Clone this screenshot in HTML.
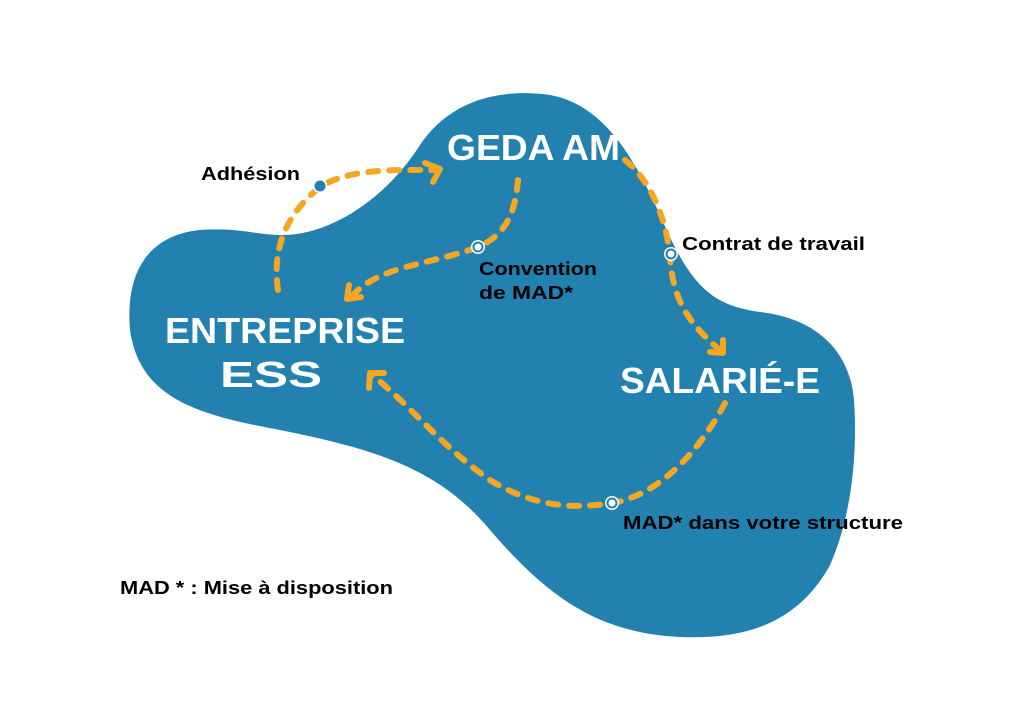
<!DOCTYPE html>
<html><head><meta charset="utf-8"><style>
body{margin:0;background:#fff;}
svg{display:block}
text{font-family:"Liberation Sans",Arial,sans-serif;font-weight:bold;}
</style></head><body>
<svg width="1024" height="724" viewBox="0 0 1024 724">
<path fill="#2281ae" d="M285 235 C330 234 385 200 420 145 C450 100 500 88 550 95 C605 105 635 160 660 215 C690 285 710 305 760 312 C815 318 850 350 854 400 C858 460 850 520 830 565 C800 620 750 640 680 637 C600 633 550 600 490 530 C440 470 380 450 280 430 C200 415 140 400 130 330 C125 270 150 235 200 230 C240 227 260 236 285 235 Z"/>
<g fill="none" stroke="#f5a623" stroke-width="6" stroke-linecap="round" stroke-dasharray="10 11">
<path d="M278 290 C272 250 285 215 320 187 C350 168 395 170 437 170"/>
<path d="M518 180 C515 215 505 235 478 247 C430 265 380 265 352 296"/>
<path d="M625 160 C650 180 665 215 670 255 C672 300 690 325 720 350"/>
<path d="M725 403 C700 450 660 495 612 503 C570 510 530 505 490 480 C440 445 410 405 372 375"/>
</g>
<g fill="none" stroke="#f5a623" stroke-width="6" stroke-linecap="round" stroke-linejoin="round">
<path d="M425 163 L440 169 L433 182"/>
<path d="M349 285 L347 299 L361 297"/>
<path d="M710 352 L723 353 L723 340"/>
<path d="M369 388 L370 373 L384 373"/>
</g>
<g>
<circle cx="320" cy="186" r="7" fill="#fff"/><circle cx="320" cy="186" r="5.5" fill="#2281ae"/>
<circle cx="478" cy="247" r="7" fill="#fff"/><circle cx="478" cy="247" r="5.5" fill="#2281ae"/><circle cx="478" cy="247" r="3.5" fill="#fff"/>
<circle cx="671" cy="254" r="7" fill="#fff"/><circle cx="671" cy="254" r="5.5" fill="#2281ae"/><circle cx="671" cy="254" r="3.5" fill="#fff"/>
<circle cx="612" cy="503" r="7" fill="#fff"/><circle cx="612" cy="503" r="5.5" fill="#2281ae"/><circle cx="612" cy="503" r="3.5" fill="#fff"/>
</g>
<g fill="#fff" font-size="36">
<text x="447" y="160" textLength="173" lengthAdjust="spacingAndGlyphs">GEDA AM</text>
<text x="165" y="343" textLength="240" lengthAdjust="spacingAndGlyphs">ENTREPRISE</text>
<text x="220" y="387" textLength="102" lengthAdjust="spacingAndGlyphs">ESS</text>
<text x="620" y="393" textLength="200" lengthAdjust="spacingAndGlyphs">SALARIÉ-E</text>
</g>
<g fill="#000" font-size="18">
<text x="201" y="180" textLength="99" lengthAdjust="spacingAndGlyphs">Adhésion</text>
<text x="479" y="275" textLength="118" lengthAdjust="spacingAndGlyphs">Convention</text>
<text x="479" y="299" textLength="94" lengthAdjust="spacingAndGlyphs">de MAD*</text>
<text x="682" y="250" textLength="183" lengthAdjust="spacingAndGlyphs">Contrat de travail</text>
<text x="623" y="529" textLength="280" lengthAdjust="spacingAndGlyphs">MAD* dans votre structure</text>
<text x="120" y="594" textLength="273" lengthAdjust="spacingAndGlyphs">MAD * : Mise à disposition</text>
</g>
</svg>
</body></html>
